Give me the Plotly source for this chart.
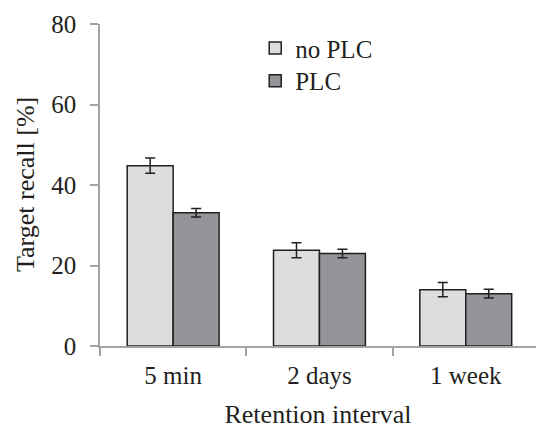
import plotly.graph_objects as go

categories = ["5 min", "2 days", "1 week"]
no_plc = [44.8, 23.8, 14.0]
no_plc_err = [1.9, 1.85, 1.75]
plc = [33.1, 23.0, 13.0]
plc_err = [1.05, 1.05, 1.1]
y_ticks = [0, 20, 40, 60, 80]

x_pos = list(range(len(categories)))
TXT = "#231f20"
AX = "#a3a3a3"
FONT = "Liberation Serif"
FS = 25

fig = go.Figure()
fig.add_trace(go.Bar(
    x=x_pos, y=no_plc, name="no PLC", legend="legend",
    marker=dict(color="#dcdddf", line=dict(color=TXT, width=1.5)),
    error_y=dict(type="data", array=no_plc_err, color=TXT, thickness=1.5, width=5),
))
fig.add_trace(go.Bar(
    x=x_pos, y=plc, name="PLC", legend="legend2",
    marker=dict(color="#939598", line=dict(color=TXT, width=1.5)),
    error_y=dict(type="data", array=plc_err, color=TXT, thickness=1.5, width=5),
))

leg_common = dict(xanchor="left", yanchor="middle", bgcolor="rgba(0,0,0,0)",
                  font=dict(family=FONT, size=FS, color=TXT), itemwidth=30)

fig.update_layout(
    width=536, height=429,
    margin=dict(l=100, r=0, t=24, b=83),
    paper_bgcolor="white", plot_bgcolor="white",
    barmode="group", bargap=0.372, bargroupgap=0,
    font=dict(family=FONT, size=FS, color=TXT),
    showlegend=True,
    legend=dict(x=0.356, y=0.9245, **leg_common),
    legend2=dict(x=0.356, y=0.823, **leg_common),
    xaxis=dict(
        range=[-0.5, 2.48], tickmode="array", tickvals=x_pos, ticktext=categories,
        tickfont=dict(family=FONT, size=FS, color=TXT), automargin=False, ticklabelstandoff=6,
        ticks="", showline=True, linecolor=AX, linewidth=1.5, showgrid=False, zeroline=False,
        title=dict(text="Retention interval", standoff=20, font=dict(family=FONT, size=26, color=TXT)),
        minor=dict(tickmode="array", tickvals=[-0.5, 0.5, 1.5, 2.5], ticks="outside",
                   ticklen=8, tickcolor=AX, tickwidth=1.5, showgrid=False),
        fixedrange=True,
    ),
    yaxis=dict(
        range=[0, 80], tickmode="array", tickvals=y_ticks, ticks="outside", ticklen=8,
        tickfont=dict(family=FONT, size=FS, color=TXT), automargin=False, ticklabelstandoff=9,
        tickcolor=AX, tickwidth=1.5, showline=True, linecolor=AX, linewidth=1.5,
        showgrid=False, zeroline=False,
        minor=dict(tickmode="array", tickvals=[80], showgrid=True, gridcolor=AX, gridwidth=1.5, ticks=""),
        fixedrange=True,
    ),
    annotations=[dict(text="Target recall [%]", textangle=-90, xref="paper", yref="paper",
                      x=-0.172, y=0.5, xanchor="center", yanchor="middle", showarrow=False,
                      font=dict(family=FONT, size=26, color=TXT))],
)

fig.write_html("out.html", config={"displayModeBar": False},
               post_script="document.body.style.margin='0';document.body.style.overflow='hidden';")
